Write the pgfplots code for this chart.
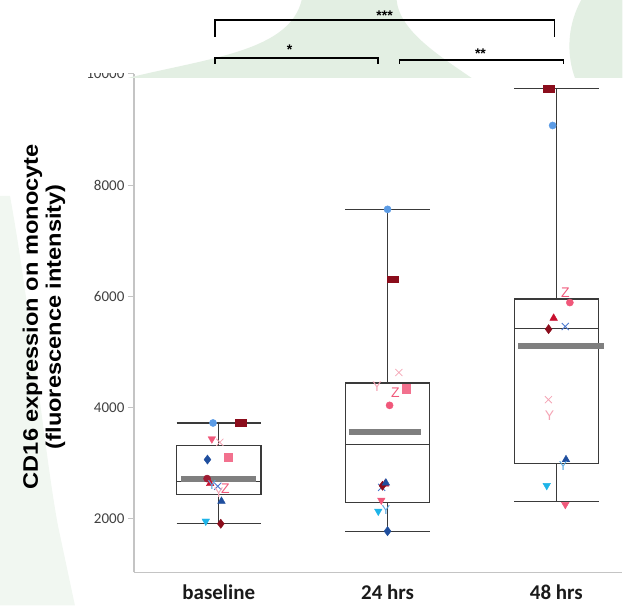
\documentclass[border=0pt]{standalone}
\usepackage{pgfplots}
\pgfplotsset{compat=1.18}
\usepackage{fontspec}
\setmainfont{Carlito}
\newfontfamily\arialf{Liberation Sans}
\definecolor{boxc}{HTML}{3A3A3A}
\definecolor{meanc}{HTML}{7F7F7F}
\definecolor{axisgray}{HTML}{C4C4C4}
\definecolor{tickgray}{HTML}{404040}
\definecolor{labelblack}{HTML}{1A1A1A}
\definecolor{bggreen}{HTML}{E3EFE3}
\definecolor{bgfaint}{HTML}{F1F7F1}
\definecolor{lblue}{HTML}{5B9BE5}
\definecolor{dred}{HTML}{8B0D1C}
\definecolor{pinkc}{HTML}{F0587A}
\definecolor{lpink}{HTML}{F4A5B5}
\definecolor{dblue}{HTML}{1F4E9E}
\definecolor{redc}{HTML}{C8102E}
\definecolor{bluex}{HTML}{4A78D0}
\definecolor{cyanc}{HTML}{1EB4E8}
\definecolor{lbluey}{HTML}{5AA8E0}
\definecolor{dredc}{HTML}{9E1B32}
\begin{document}
\begin{tikzpicture}
\begin{scope}[x=1bp,y=1bp]
\useasboundingbox (0,0) rectangle (623,606);
\fill[bgfaint] (0,410) -- (10,410) .. controls (30,300) and (45,150) .. (58,80) -- (75,0) -- (0,0) -- cycle;
\end{scope}
\begin{axis}[
 at={(134bp,33bp)}, anchor=south west,
 scale only axis, width=489bp, height=499bp,
 xmin=-0.503, xmax=2.391, ymin=1030, ymax=10000,
 axis lines*=left,
 axis line style={draw=axisgray, line width=1.3bp},
 xtick={0,1,2}, xticklabels={baseline,24 hrs,48 hrs},
 x tick style={draw=none},
 ytick={2000,4000,6000,8000,10000},
 scaled y ticks=false,
 y tick style={draw=axisgray, line width=1bp},
 tick align=outside, major tick length=6bp,
 yticklabel style={font=\fontsize{15bp}{18bp}\selectfont, text=tickgray},
 xticklabel style={font=\fontsize{21bp}{24bp}\selectfont\bfseries, text=labelblack, yshift=-3bp},
 /pgf/number format/assume math mode=true,
 /pgf/number format/1000 sep={},
 unbounded coords=jump,
 clip=false,
]
% boxes: baseline
\addplot[draw=boxc, line width=1.3bp, mark=none] coordinates {(-0.25,2431) (0.25,2431) (0.25,3311) (-0.25,3311)} -- cycle;
\addplot[draw=boxc, line width=1.3bp, mark=none] coordinates {(-0.25,2665) (0.25,2665) (nan,nan) (0,3311) (0,3719) (nan,nan) (-0.25,3719) (0.25,3719) (nan,nan) (0,2431) (0,1905) (nan,nan) (-0.25,1905) (0.25,1905)};
% 24 hrs
\addplot[draw=boxc, line width=1.3bp, mark=none] coordinates {(0.75,2282) (1.25,2282) (1.25,4437) (0.75,4437)} -- cycle;
\addplot[draw=boxc, line width=1.3bp, mark=none] coordinates {(0.75,3329) (1.25,3329) (nan,nan) (1,4437) (1,7563) (nan,nan) (0.75,7563) (1.25,7563) (nan,nan) (1,2282) (1,1772) (nan,nan) (0.75,1772) (1.25,1772)};
% 48 hrs
\addplot[draw=boxc, line width=1.3bp, mark=none] coordinates {(1.75,2988) (2.25,2988) (2.25,5952) (1.75,5952)} -- cycle;
\addplot[draw=boxc, line width=1.3bp, mark=none] coordinates {(1.75,5419) (2.25,5419) (nan,nan) (2,5952) (2,9737) (nan,nan) (1.75,9737) (2.25,9737) (nan,nan) (2,2988) (2,2300) (nan,nan) (1.75,2300) (2.25,2300)};
% mean bars
\addplot[meanc, line width=6bp, mark=none] coordinates {(-0.225,2713) (0.22,2713)};
\addplot[meanc, line width=6bp, mark=none] coordinates {(0.77,3551) (1.2,3551)};
\addplot[meanc, line width=6bp, mark=none] coordinates {(1.775,5095) (2.285,5095)};
% points
\addplot[only marks, mark=*, mark size=3.6bp, color=lblue] coordinates {(-0.034,3719) (1.0,7563) (1.978,9072)};
\addplot[only marks, mark=square*, mark size=3.6bp, color=dred, mark options={xscale=1.5,yscale=0.95}] coordinates {(0.128,3719) (1.031,6306) (1.953,9737)};
\addplot[only marks, mark=triangle*, mark size=4.4bp, color=pinkc, mark options={rotate=180}] coordinates {(-0.041,3432) (0.963,2329) (2.053,2251)};
\addplot[only marks, mark=x, mark size=5bp, color=lpink, mark options={line width=0.8bp}] coordinates {(0.006,3371) (1.067,4628) (1.953,4138)};
\addplot[only marks, mark=diamond*, mark size=4.6bp, color=dblue] coordinates {(-0.067,3060) (1.0,1772)};
\addplot[only marks, mark=square*, mark size=4.2bp, color=pinkc!85!white] coordinates {(0.057,3101) (1.11,4335)};
\addplot[only marks, mark=*, mark size=3.6bp, color=pinkc] coordinates {(1.012,4036) (2.08,5886)};
\addplot[only marks, mark=*, mark size=3.6bp, color=dredc] coordinates {(-0.069,2718)};
\addplot[only marks, mark=triangle*, mark size=4.4bp, color=redc] coordinates {(-0.051,2629) (0.985,2620) (1.984,5605)};
\addplot[only marks, mark=x, mark size=5bp, color=bluex, mark options={line width=0.9bp}] coordinates {(-0.006,2580) (0.965,2560) (2.053,5454)};
\addplot[only marks, mark=none, nodes near coords={Z}, every node near coord/.append style={anchor=center, inner sep=0pt, font=\arialf\fontsize{14bp}{14bp}\selectfont, text=pinkc}] coordinates {(0.04,2545) (1.047,4258) (2.053,6072)};
\addplot[only marks, mark=none, nodes near coords={Y}, every node near coord/.append style={anchor=center, inner sep=0pt, font=\arialf\fontsize{14bp}{14bp}\selectfont, text=lpink}] coordinates {(0.0,2470) (0.937,4366) (1.959,3850)};
\addplot[only marks, mark=diamond*, mark size=4.6bp, color=dred] coordinates {(0.012,1905) (0.97,2590) (1.954,5407)};
\addplot[only marks, mark=triangle*, mark size=4.4bp, color=dblue] coordinates {(0.016,2311) (0.99,2640) (2.057,3060)};
\addplot[only marks, mark=triangle*, mark size=4.4bp, color=cyanc, mark options={rotate=180}] coordinates {(-0.077,1952) (0.945,2131) (1.943,2593)};
\addplot[only marks, mark=none, nodes near coords={Y}, every node near coord/.append style={anchor=center, inner sep=0pt, font=\arialf\fontsize{13bp}{13bp}\selectfont, text=lbluey}] coordinates {(-0.04,2610) (0.99,2160) (2.04,2950)};
\end{axis}
\begin{scope}[x=1bp,y=1bp]
\fill[white] (0,533) rectangle (623,606);
\begin{scope}
\clip (0,528) rectangle (623,606);
\fill[bggreen] (128,528) .. controls (210,548) and (290,555) .. (302,606) -- (397,606) .. controls (400,575) and (440,550) .. (472,528) -- cycle;
\fill[bggreen] (665,560) circle (95);
\end{scope}
\node[rotate=90, align=center, font=\arialf\bfseries\fontsize{21bp}{23bp}\selectfont, text=black] at (44,289) {\scalebox{1.125}[1]{CD16 expression on monocyte}\\\scalebox{1.125}[1]{(fluorescence intensity)}};
\draw[black, line width=1.8bp] (215,569) -- (215,586) -- (555,586) -- (555,569);
\node[font=\arialf\bfseries\fontsize{14bp}{14bp}\selectfont] at (385,590) {***};
\draw[black, line width=1.8bp] (215,542) -- (215,548) -- (378,548) -- (378,542);
\node[font=\arialf\bfseries\fontsize{14bp}{14bp}\selectfont] at (290,556) {*};
\draw[black, line width=1.8bp] (400,542) -- (400,546) -- (564,546) -- (564,542);
\node[font=\arialf\bfseries\fontsize{14bp}{14bp}\selectfont] at (481,552) {**};
\end{scope}
\end{tikzpicture}
\end{document}
